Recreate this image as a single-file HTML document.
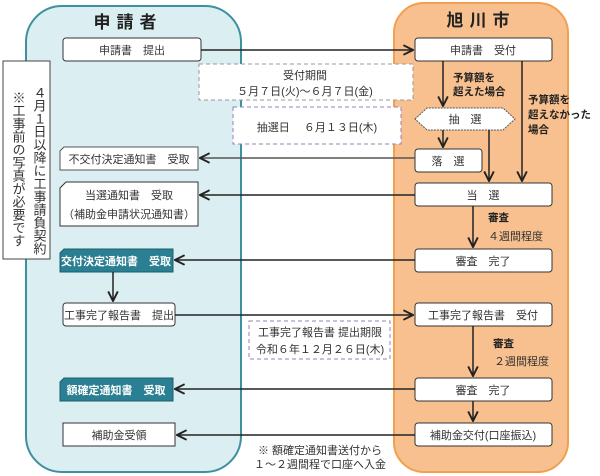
<!DOCTYPE html>
<html><head><meta charset="utf-8"><style>
html,body{margin:0;padding:0;background:#fff;}
svg{display:block;font-family:"Liberation Sans","Noto Sans CJK JP",sans-serif;}
</style></head><body>
<svg width="600" height="476" viewBox="0 0 600 476" xmlns="http://www.w3.org/2000/svg">
<defs>
<marker id="a" viewBox="0 0 10 10" refX="9" refY="5" markerWidth="8" markerHeight="8" orient="auto"><path d="M1,1 L9,5 L1,9" fill="none" stroke="#222" stroke-width="1.6"/></marker>
</defs>
<rect x="26" y="6" width="215" height="466" rx="36" fill="#dbeef2" stroke="#3e8fa0" stroke-width="2"/>
<rect x="394" y="3" width="174" height="469" rx="30" fill="#f8c08e" stroke="#f0a050" stroke-width="2"/>
<text x="128" y="28" font-size="17" font-weight="bold" text-anchor="middle" fill="#222" letter-spacing="6">申請者</text>
<text x="481" y="26" font-size="17" font-weight="bold" text-anchor="middle" fill="#222" letter-spacing="6">旭川市</text>

<g font-size="11" fill="#333" text-anchor="middle">
<rect x="3" y="61" width="47" height="198" fill="#fff" stroke="#444"/>
<text x="39" y="86" font-size="13" style="writing-mode:vertical-rl" text-anchor="start">４月１日以降に工事請負契約</text>
<text x="18" y="91" font-size="13" style="writing-mode:vertical-rl" text-anchor="start">※工事前の写真が必要です</text>

<rect x="63" y="38" width="138" height="23" rx="3" fill="#fff" stroke="#333"/>
<text x="132" y="54">申請書　提出</text>
<polygon points="64,147 198,147 198,170 60,170 60,151" fill="#fff" stroke="#555"/>
<text x="129" y="163">不交付決定通知書　受取</text>
<polygon points="66,182 198,182 198,226 60,226 60,188" fill="#fff" stroke="#333"/>
<text x="129" y="199">当選通知書　受取</text>
<text x="129" y="218">（補助金申請状況通知書）</text>
<polygon points="64,249 173,249 173,272 60,272 60,253" fill="#2b7f93" stroke="#1e5e6d"/>
<text x="116" y="265" fill="#fff" font-weight="bold">交付決定通知書　受取</text>
<rect x="63" y="303" width="112" height="23" rx="3" fill="#fff" stroke="#333"/>
<text x="119" y="319">工事完了報告書　提出</text>
<polygon points="64,378 173,378 173,401 60,401 60,382" fill="#2b7f93" stroke="#1e5e6d"/>
<text x="116" y="394" fill="#fff" font-weight="bold">額確定通知書　受取</text>
<rect x="63" y="423" width="112" height="23" fill="#fff" stroke="#333"/>
<text x="119" y="439">補助金受領</text>

<rect x="415" y="38" width="137" height="23" rx="3" fill="#fff" stroke="#333"/>
<text x="483" y="54">申請書　受付</text>
<polygon points="415,119 427,108 503,108 515,119 503,130 427,130" fill="#fff" stroke="#555" stroke-dasharray="2,1"/>
<text x="465" y="123">抽　選</text>
<rect x="415" y="149" width="67" height="23" rx="3" fill="#fff" stroke="#333"/>
<text x="448" y="165">落　選</text>
<rect x="415" y="183" width="137" height="23" rx="3" fill="#fff" stroke="#333"/>
<text x="483" y="199">当　選</text>
<rect x="415" y="249" width="137" height="23" rx="3" fill="#fff" stroke="#333"/>
<text x="483" y="265">審査　完了</text>
<rect x="415" y="303" width="137" height="23" rx="3" fill="#fff" stroke="#333"/>
<text x="483" y="319">工事完了報告書　受付</text>
<rect x="415" y="378" width="137" height="23" rx="3" fill="#fff" stroke="#333"/>
<text x="483" y="394">審査　完了</text>
<rect x="415" y="423" width="137" height="23" rx="3" fill="#fff" stroke="#333"/>
<text x="483" y="439">補助金交付(口座振込)</text>

<rect x="199" y="64" width="214" height="36" fill="#fff" stroke="#999" stroke-dasharray="4,3"/>
<text x="305" y="79">受付期間</text>
<text x="305" y="95">５月７日(火)～６月７日(金)</text>
<rect x="233" y="107" width="168" height="37" fill="#fff" stroke="#9a7fb8" stroke-dasharray="4,3"/>
<text x="317" y="131">抽選日　 ６月１３日(木)</text>
<rect x="249" y="321" width="141" height="38" fill="#fff" stroke="#9a7fb8" stroke-dasharray="4,3"/>
<text x="320" y="336">工事完了報告書 提出期限</text>
<text x="320" y="353">令和６年１２月２６日(木)</text>
<text x="320" y="454">※ 額確定通知書送付から</text>
<text x="320" y="468">１～２週間程で口座へ入金</text>

<g font-weight="bold" fill="#222" text-anchor="start" font-size="10.5">
<text x="453" y="81">予算額を</text>
<text x="453" y="95">超えた場合</text>
<text x="528" y="103">予算額を</text>
<text x="528" y="118">超えなかった</text>
<text x="528" y="133">場合</text>
<text x="488" y="221">審査</text>
<text x="493" y="347">審査</text>
</g>
<text x="488" y="240" text-anchor="start">４週間程度</text>
<text x="494" y="365" text-anchor="start">２週間程度</text>
</g>

<g stroke="#222" stroke-width="1.5" fill="none">
<line x1="201" y1="50" x2="413" y2="50" marker-end="url(#a)"/>
<line x1="415" y1="158" x2="200" y2="158" marker-end="url(#a)" stroke="#555"/>
<line x1="415" y1="195" x2="200" y2="195" marker-end="url(#a)"/>
<line x1="415" y1="260" x2="175" y2="260" marker-end="url(#a)"/>
<line x1="113" y1="272" x2="113" y2="301" marker-end="url(#a)"/>
<line x1="175" y1="315" x2="413" y2="315" marker-end="url(#a)"/>
<line x1="415" y1="389" x2="175" y2="389" marker-end="url(#a)"/>
<line x1="415" y1="435" x2="177" y2="435" marker-end="url(#a)"/>
<line x1="443" y1="61" x2="443" y2="106" marker-end="url(#a)"/>
<line x1="522" y1="61" x2="522" y2="181" marker-end="url(#a)"/>
<line x1="443" y1="130" x2="443" y2="147" marker-end="url(#a)"/>
<line x1="489" y1="130" x2="489" y2="181" marker-end="url(#a)"/>
<line x1="473" y1="206" x2="473" y2="247" marker-end="url(#a)"/>
<line x1="473" y1="326" x2="473" y2="376" marker-end="url(#a)"/>
<line x1="473" y1="401" x2="473" y2="421" marker-end="url(#a)"/>
</g>
</svg>
</body></html>
